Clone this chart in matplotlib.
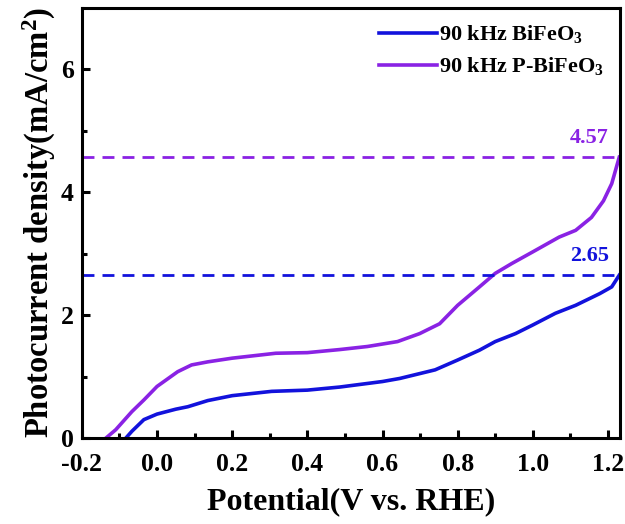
import numpy as np
import matplotlib
matplotlib.use("Agg")
import matplotlib.pyplot as plt

plt.rcParams['font.family'] = 'Liberation Serif'
plt.rcParams['font.weight'] = 'bold'
plt.rcParams['mathtext.fontset'] = 'custom'
plt.rcParams['mathtext.rm'] = 'Liberation Serif:bold'
plt.rcParams['mathtext.it'] = 'Liberation Serif:bold'
plt.rcParams['mathtext.bf'] = 'Liberation Serif:bold'

## data
v_bfo = [-0.083, -0.067, -0.035, 0.0, 0.05, 0.082, 0.135, 0.2, 0.305, 0.4, 0.486,
         0.6, 0.646, 0.74, 0.8, 0.858, 0.9, 0.954, 1.0, 1.06, 1.114, 1.178, 1.21, 1.23]
j_bfo = [0.0, 0.11, 0.30, 0.39, 0.47, 0.51, 0.61, 0.69, 0.76, 0.78, 0.83,
         0.92, 0.97, 1.11, 1.27, 1.43, 1.57, 1.70, 1.84, 2.03, 2.16, 2.35, 2.46, 2.65]

v_pbfo = [-0.136, -0.11, -0.067, -0.035, 0.0, 0.055, 0.092, 0.135, 0.2, 0.316, 0.4,
          0.486, 0.56, 0.64, 0.699, 0.752, 0.8, 0.858, 0.9, 0.944, 1.0, 1.07,
          1.114, 1.156, 1.188, 1.21, 1.23]
j_pbfo = [0.0, 0.135, 0.43, 0.62, 0.84, 1.08, 1.19, 1.24, 1.30, 1.38, 1.39,
          1.44, 1.49, 1.57, 1.70, 1.86, 2.16, 2.46, 2.68, 2.84, 3.03, 3.27,
          3.38, 3.59, 3.86, 4.14, 4.57]

j_max = [2.65, 4.57]
labels = ['90 kHz BiFeO$_3$', '90 kHz P-BiFeO$_3$']
colors = ['#1212DC', '#8A22E4']

fig = plt.figure(figsize=(6.25, 5.24), dpi=100)
ax = fig.add_axes([0.131, 0.164, 0.861, 0.821])

ax.plot(v_bfo, j_bfo, color=colors[0], lw=2.6, label=labels[0])
ax.plot(v_pbfo, j_pbfo, color=colors[1], lw=2.6, label=labels[1])

for jm, c in zip(j_max, colors):
    ax.axhline(jm, color=c, lw=2, ls=(0, (4.3, 2.9)))
    ax.text(1.15, jm + 0.32, '%.2f' % jm, color=c, fontsize=16,
            fontweight='bold', ha='center', va='center')

ax.set_xlim(-0.2, 1.232)
ax.set_ylim(0, 7)
ax.set_xticks(np.arange(-0.2, 1.21, 0.2))
ax.set_xticks(np.arange(-0.1, 1.21, 0.2), minor=True)
ax.set_xticklabels(['%.1f' % t for t in np.arange(-0.2, 1.21, 0.2)])
ax.set_yticks([0, 2, 4, 6])
ax.set_yticks([1, 3, 5], minor=True)
ax.tick_params(which='both', direction='in', width=2.2, labelsize=18.5)
ax.tick_params(which='major', length=6)
ax.tick_params(which='minor', length=3.5)
ax.tick_params(axis='x', pad=11)
ax.tick_params(axis='y', pad=6)
for s in ax.spines.values():
    s.set_linewidth(2.2)

ax.set_xlabel('Potential(V vs. RHE)', fontsize=23, fontweight='bold', labelpad=8)
ax.set_ylabel('Photocurrent density(mA/cm$^2$)', fontsize=23.5, fontweight='bold', labelpad=2)

ax.legend(loc='upper right', frameon=False, fontsize=16, handlelength=2.6,
          handletextpad=0.1, borderaxespad=0.3, labelspacing=0.45)

fig.savefig('out.png', dpi=100)
